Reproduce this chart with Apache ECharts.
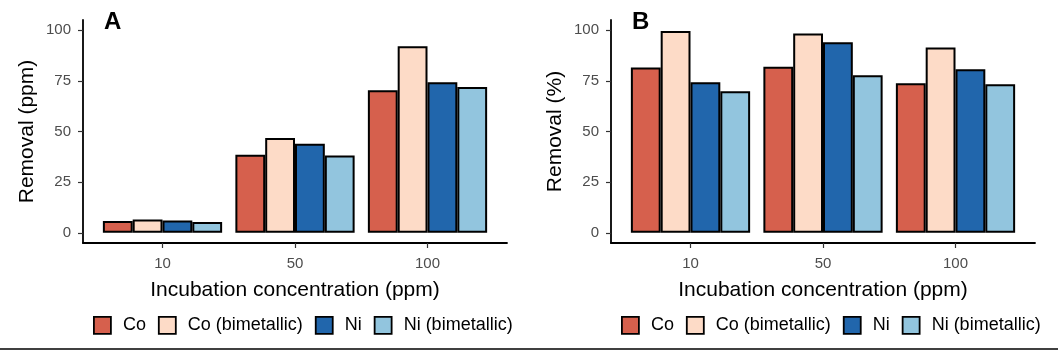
<!DOCTYPE html>
<html>
<head>
<meta charset="utf-8">
<script src="https://cdn.jsdelivr.net/npm/echarts@6/dist/echarts.min.js"></script>
<style>
  html, body { margin: 0; padding: 0; background: #fff; }
  #chart { width: 1058px; height: 354px; }
</style>
</head>
<body>
<div id="chart"></div>
<script>
// x categories (incubation concentration, ppm)
var concentrations = ['10', '50', '100']
var seriesNames = ['Co', 'Co (bimetallic)', 'Ni', 'Ni (bimetallic)']
var colors = ['#D6604D', '#FDDBC7', '#2166AC', '#92C5DE']
var yTicks = [0, 25, 50, 75, 100]

// panel A: removal (ppm)
var coPpm = [5.8, 38.5, 70.4]
var coBiPpm = [6.6, 46.8, 92.1]
var niPpm = [6.1, 43.9, 74.3]
var niBiPpm = [5.3, 38.2, 72.0]

// panel B: removal (%)
var coPct = [81.6, 81.9, 73.8]
var coBiPct = [99.6, 98.3, 91.4]
var niPct = [74.3, 94.0, 80.7]
var niBiPct = [69.9, 77.8, 73.3]

var FONT = 'Liberation Sans, Arial, sans-serif'
var xPos = concentrations.map(function (c, i) { return i + 1 })

function toPoints(vals) {
  return vals.map(function (v, i) { return [xPos[i], v] })
}

function makeX(gridIndex) {
  return {
    type: 'value',
    gridIndex: gridIndex,
    min: 0.4,
    max: 3.6,
    name: 'Incubation concentration (ppm)',
    nameLocation: 'middle',
    nameGap: 37,
    nameMoveOverlap: false,
    nameTextStyle: { fontSize: 21, color: '#000', fontFamily: FONT },
    axisLine: { show: true, onZero: false, lineStyle: { color: '#000', width: 1.8 } },
    axisTick: { show: true, length: 5, customValues: xPos, lineStyle: { color: '#333', width: 1.2 } },
    axisLabel: {
      customValues: xPos,
      margin: 13,
      fontSize: 15,
      color: '#4d4d4d',
      fontFamily: FONT,
      formatter: function (v) { return concentrations[Math.round(v) - 1] }
    },
    splitLine: { show: false }
  }
}

function makeY(gridIndex, title) {
  return {
    type: 'value',
    gridIndex: gridIndex,
    min: -5,
    max: 105,
    name: title,
    nameLocation: 'middle',
    nameGap: 45,
    nameMoveOverlap: false,
    nameTextStyle: { fontSize: 21, color: '#000', fontFamily: FONT },
    axisLine: { show: true, onZero: false, lineStyle: { color: '#000', width: 1.8 } },
    axisTick: { show: true, length: 5, customValues: yTicks, lineStyle: { color: '#333', width: 1.2 } },
    axisLabel: { customValues: yTicks, margin: 12, fontSize: 15, color: '#4d4d4d', fontFamily: FONT },
    splitLine: { show: false }
  }
}

function makeSeries(panelData, axisIndex) {
  return panelData.map(function (vals, k) {
    return {
      name: seriesNames[k],
      type: 'bar',
      xAxisIndex: axisIndex,
      yAxisIndex: axisIndex,
      barWidth: '22.5%',
      barGap: '0%',
      itemStyle: { color: colors[k], borderColor: '#000', borderWidth: 2 },
      data: toPoints(vals)
    }
  })
}

function makeLegend(left) {
  return {
    left: left,
    top: 316,
    padding: 0,
    orient: 'horizontal',
    icon: 'rect',
    itemWidth: 17,
    itemHeight: 17,
    itemGap: 12,
    data: seriesNames,
    selectedMode: false,
    itemStyle: { borderColor: '#000', borderWidth: 1.8 },
    textStyle: { fontSize: 18, color: '#000', fontFamily: FONT, padding: [0, 0, 0, 7] }
  }
}

var chart = echarts.init(document.getElementById('chart'))
var option = {
  animation: false,
  backgroundColor: '#fff',
  color: colors,
  textStyle: { fontFamily: FONT },
  title: [
    { text: 'A', left: 104, top: 10, padding: 0, textStyle: { fontSize: 24, fontWeight: 'bold', color: '#000', fontFamily: FONT } },
    { text: 'B', left: 632, top: 10, padding: 0, textStyle: { fontSize: 24, fontWeight: 'bold', color: '#000', fontFamily: FONT } }
  ],
  grid: [
    { left: 83, top: 20, width: 424, height: 223, outerBoundsMode: 'none' },
    { left: 611, top: 20, width: 424, height: 223, outerBoundsMode: 'none' }
  ],
  legend: [makeLegend(93), makeLegend(621)],
  xAxis: [makeX(0), makeX(1)],
  yAxis: [makeY(0, 'Removal (ppm)'), makeY(1, 'Removal (%)')],
  series: makeSeries([coPpm, coBiPpm, niPpm, niBiPpm], 0)
    .concat(makeSeries([coPct, coBiPct, niPct, niBiPct], 1)),
  graphic: [
    { type: 'line', shape: { x1: 0, y1: 349, x2: 1058, y2: 349 }, style: { stroke: '#000', lineWidth: 1.5 } }
  ]
}
chart.setOption(option)
</script>
</body>
</html>
